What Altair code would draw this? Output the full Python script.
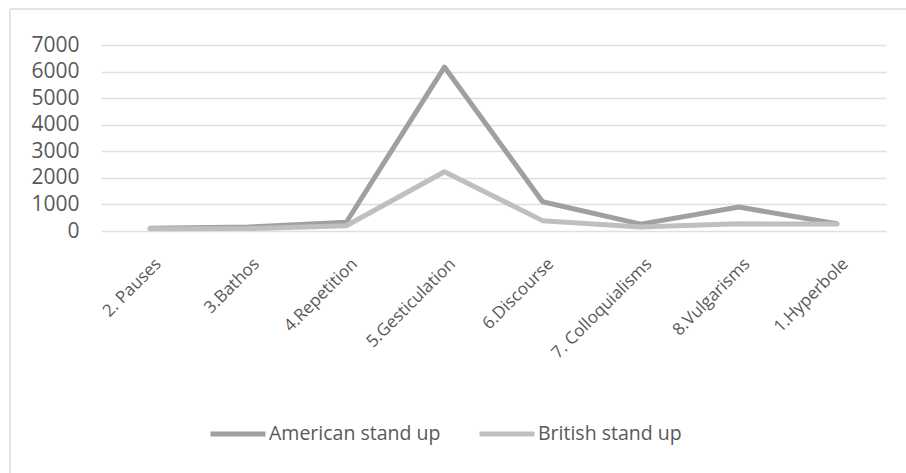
import altair as alt
import pandas as pd

categories = ["2. Pauses", "3.Bathos", "4.Repetition", "5.Gesticulation",
              "6.Discourse", "7. Colloquialisms", "8.Vulgarisms", "1.Hyperbole"]
american = [100, 150, 330, 6170, 1100, 260, 900, 270]
british = [80, 90, 200, 2230, 390, 150, 270, 260]
series = ["American stand up", "British stand up"]
colors = ["#a0a0a0", "#bfbfbf"]

rows = []
for name, vals in zip(series, [american, british]):
    for c, v in zip(categories, vals):
        rows.append({"category": c, "value": v, "series": name})
df = pd.DataFrame(rows)

FONT = "Open Sans"

lines = alt.Chart(df).mark_line(strokeWidth=5, strokeJoin="round", strokeCap="round").encode(
    x=alt.X("category:N", sort=categories, title=None,
            scale=alt.Scale(paddingInner=0, paddingOuter=0.5),
            axis=alt.Axis(labelAngle=-45, labelAlign="right", labelBaseline="middle",
                          labelPadding=30, labelOffset=8, labelFontSize=17,
                          labelColor="#595959", labelFont=FONT, labelLimit=0,
                          domain=False, ticks=False, grid=False)),
    y=alt.Y("value:Q", title=None,
            scale=alt.Scale(domain=[0, 7000], nice=False),
            axis=alt.Axis(values=[0, 1000, 2000, 3000, 4000, 5000, 6000, 7000], format="d",
                          labelFontSize=21, labelColor="#595959", labelFont=FONT,
                          labelPadding=22, domain=False, ticks=False,
                          gridColor="#e0e0e0", gridWidth=1.5)),
    color=alt.Color("series:N", scale=alt.Scale(domain=series, range=colors), title=None,
                    legend=alt.Legend(orient="none", legendX=107, legendY=359,
                                      direction="horizontal", symbolType="stroke",
                                      symbolSize=3025, symbolStrokeWidth=5,
                                      labelFontSize=19.5, labelColor="#595959", labelFont=FONT,
                                      labelOffset=1, labelLimit=0, columnPadding=28, padding=0)),
)

border_v = alt.Chart(df).mark_rule(color="#e4e4e4", strokeWidth=1.5).encode(
    x=alt.value(-91), y=alt.value(-36), y2=alt.value(440))
border_h = alt.Chart(df).mark_rule(color="#e4e4e4", strokeWidth=1.5).encode(
    x=alt.value(-91), x2=alt.value(815), y=alt.value(-36))

chart = alt.layer(border_v, border_h, lines).properties(
    width=785, height=186,
    padding={"left": 101, "top": 45, "right": 20, "bottom": 242},
    autosize=alt.AutoSizeParams(type="none"),
    background="white",
).configure_view(stroke=None)

chart.save("out.html", embed_options={"renderer": "svg", "actions": False})
